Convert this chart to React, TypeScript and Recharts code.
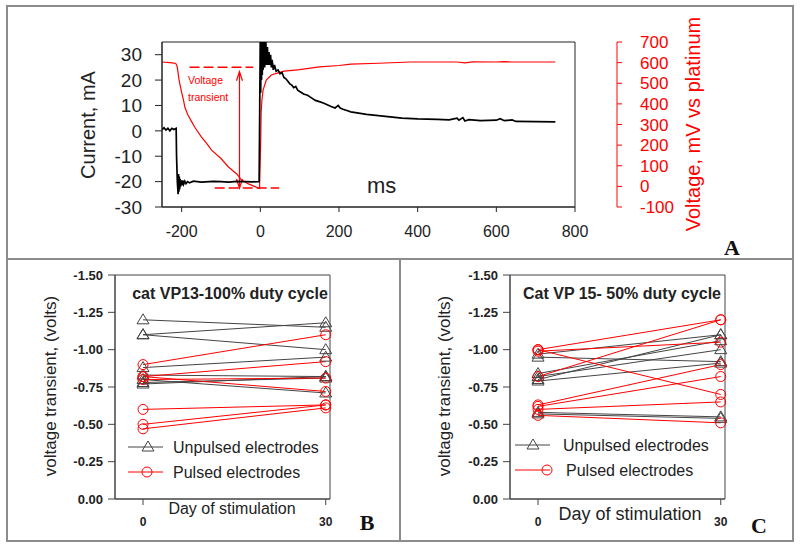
import React from "react";
import { LineChart, Line, XAxis, YAxis, ReferenceLine, ReferenceArea } from "recharts";

const FONT = "Arial, 'Liberation Sans', Helvetica, sans-serif";
const SERIF = "'Liberation Serif', 'Times New Roman', serif";
const RED = "#ff0000";
const GRAY = "#444";

// ---- panel A: current pulse and voltage transient ----
const currentTime = [
  -250, -245, -240, -235, -230, -225, -220, -214, -213, -211, -209, -208, -207, -206, -205, -204, -203, -201,
  -199, -197, -195, -192, -189, -185, -180, -170, -150, -120, -100, -80, -60, -40, -20, -5, -3, -2, -1, 0, 1,
  2, 3, 4, 5, 6, 7, 8, 9, 10, 11, 12, 13, 14, 16, 18, 20, 22, 24, 26, 28, 30, 33, 36, 40, 45, 50, 55, 60, 65,
  70, 75, 80, 85, 90, 95, 100, 110, 120, 130, 140, 150, 160, 170, 180, 190, 198, 203, 210, 220, 230, 250, 270,
  300, 330, 360, 400, 450, 480, 500, 505, 515, 520, 530, 560, 600, 610, 620, 640, 650, 700, 750,
];
const currentMA = [
  0.5, 1.2, 0.3, 1, 0, 1, 0.5, 1, -10, -20, -25, -17, -24, -18, -23, -19, -22, -19.5,
  -21.5, -19.5, -21, -19.8, -20.8, -20, -20.5, -19.8, -20.2, -19.9, -20, -20.2, -19.9, -20, -20.1, -20, -20, 0, 20, 40, 15,
  40, 20, 40, 22, 40, 24, 40, 25, 38, 25, 36, 26, 35, 26, 33, 26, 31, 26, 30, 25, 28, 24, 26, 23.5, 24, 22.5, 23, 21, 20.5,
  19.5, 18.5, 18, 17, 17.5, 16, 15.5, 14.5, 14, 13, 12, 11.5, 11, 10.3, 9.6, 9, 10, 9, 8.5, 8, 7.5, 7, 6.5,
  6, 5.5, 5, 4.7, 4.5, 4.3, 5, 4.2, 5.2, 3.9, 4.4, 4, 4.2, 4.8, 4, 4.3, 3.7, 3.6, 3.5,
];
const voltageTime = [
  -250, -230, -220, -215, -212, -210, -207, -205, -200, -195, -192, -185, -175, -167, -150, -135, -124, -100,
  -81, -60, -48, -30, -15, -5, -2, 0, 1, 2, 4, 7, 15, 28, 45, 61, 100, 150, 200, 230, 300, 382, 500, 520, 540,
  600, 620, 640, 750,
];
const voltageMV = [
  603, 600, 598, 596, 585, 564, 520, 501, 455, 415, 385, 350, 315, 288, 240, 205, 176, 135,
  94, 60, 31, 12, 0, -8, -10, 150, 225, 356, 419, 467, 516, 540, 550, 559, 566, 579, 586, 593, 597, 603, 603, 599, 604,
  603, 605, 603, 603,
];
const timeTicks = [-200, 0, 200, 400, 600, 800];
const currentTicks = [-30, -20, -10, 0, 10, 20, 30];
const voltageTicks = [-100, 0, 100, 200, 300, 400, 500, 600, 700];

// ---- panels B and C: voltage transient at day 0 and day 30 ----
const days = [0, 30];
const transientTicks = [-1.5, -1.25, -1, -0.75, -0.5, -0.25, 0];
const vp13Unpulsed = [
  [-1.2, -1.15], [-1.1, -1.18], [-1.1, -1.0], [-0.88, -0.95],
  [-0.83, -0.82], [-0.8, -0.71], [-0.78, -0.81], [-0.77, -0.82],
];
const vp13Pulsed = [
  [-0.9, -1.1], [-0.82, -0.92], [-0.82, -0.72], [-0.8, -0.81],
  [-0.6, -0.63], [-0.5, -0.63], [-0.47, -0.61],
];
const vp15Unpulsed = [
  [-0.97, -1.1], [-0.95, -0.92], [-0.84, -1.06], [-0.82, -1.0],
  [-0.8, -1.1], [-0.79, -0.91], [-0.58, -0.55], [-0.57, -0.54],
];
const vp15Pulsed = [
  [-1.0, -1.2], [-0.82, -1.2], [-1.0, -0.7], [-0.99, -1.05],
  [-0.63, -0.9], [-0.62, -0.82], [-0.6, -0.65], [-0.56, -0.51],
];

const currentData = currentTime.map((t, i) => ({ t, i: currentMA[i] }));
const voltageData = voltageTime.map((t, i) => ({ t, v: voltageMV[i] }));

const toPairData = (pair: number[]) => days.map((day, k) => ({ day, v: pair[k] }));

const triangleDot = (color: string) => (props: any) => {
  const { cx, cy, index } = props;
  if (cx == null || cy == null) return <g key={`t-${index}`} />;
  return (
    <path
      key={`t-${index}`}
      d={`M${cx},${cy - 6} L${cx + 6},${cy + 4} L${cx - 6},${cy + 4} Z`}
      fill="none"
      stroke={color}
      strokeWidth={1}
    />
  );
};

const arrowShape = (props: any) => {
  const { x1, y1, x2, y2 } = props;
  const top = Math.min(y1, y2);
  const bot = Math.max(y1, y2);
  return (
    <g stroke={RED} strokeWidth={1.2} fill="none">
      <line x1={x1} y1={top} x2={x2} y2={bot} />
      <polyline points={`${x1 - 3},${top + 9} ${x1},${top} ${x1 + 3},${top + 9}`} />
      <polyline points={`${x1 - 3},${bot - 9} ${x1},${bot} ${x1 + 3},${bot - 9}`} />
    </g>
  );
};

function PanelA() {
  return (
    <LineChart width={800} height={260} margin={{ top: 42, right: 113, bottom: 23, left: 102 }}>
      <XAxis
        type="number"
        dataKey="t"
        domain={[-250, 800]}
        ticks={timeTicks}
        interval={0}
        allowDataOverflow
        stroke="#222"
        tickSize={5}
        tickMargin={14}
        height={30}
        tick={{ fill: "#222", fontSize: 16, fontFamily: FONT }}
      />
      <YAxis
        yAxisId="c"
        domain={[-30, 35]}
        ticks={currentTicks}
        interval={0}
        allowDataOverflow
        width={60}
        stroke="#222"
        tickSize={7}
        tickMargin={13}
        tick={{ fill: "#222", fontSize: 19, fontFamily: FONT }}
      />
      <YAxis yAxisId="gap" orientation="right" width={42} domain={[0, 1]} axisLine={false} tickLine={false} tick={false} />
      <YAxis
        yAxisId="v"
        orientation="right"
        domain={[-100, 700]}
        ticks={voltageTicks}
        interval={0}
        width={70}
        stroke={RED}
        tickSize={5}
        tickMargin={18}
        tick={{ fill: RED, fontSize: 17, fontFamily: FONT }}
      />
      <ReferenceArea yAxisId="c" x1={-250} x2={800} y1={-30} y2={35} fill="none" stroke="#222" strokeWidth={1} ifOverflow="visible" />
      <ReferenceLine yAxisId="v" segment={[{ x: -180, y: 578 }, { x: -18, y: 578 }]} stroke={RED} strokeWidth={1.5} strokeDasharray="10 4" />
      <ReferenceLine yAxisId="v" segment={[{ x: -116, y: -8 }, { x: 48, y: -8 }]} stroke={RED} strokeWidth={1.5} strokeDasharray="10 4" />
      <ReferenceLine yAxisId="v" segment={[{ x: -53, y: -8 }, { x: -53, y: 556 }]} shape={arrowShape} />
      <Line yAxisId="v" data={voltageData} dataKey="v" stroke={RED} strokeWidth={1.2} dot={false} isAnimationActive={false} />
      <Line yAxisId="c" data={currentData} dataKey="i" stroke="#000" strokeWidth={1.7} dot={false} isAnimationActive={false} />
    </LineChart>
  );
}

function TransientPanel({ unpulsed, pulsed }: { unpulsed: number[][]; pulsed: number[][] }) {
  return (
    <LineChart width={400} height={288} margin={{ top: 17, right: 70, bottom: 17, left: 65 }}>
      <XAxis
        type="number"
        dataKey="day"
        domain={[-4.6, 30.7]}
        ticks={days}
        interval={0}
        stroke={GRAY}
        tickSize={6}
        tickMargin={12}
        height={30}
        tick={{ fill: "#222", fontSize: 12, fontWeight: "bold", fontFamily: FONT }}
      />
      <YAxis
        type="number"
        domain={[-1.5, 0]}
        reversed
        ticks={transientTicks}
        interval={0}
        tickFormatter={(v: number) => v.toFixed(2)}
        width={50}
        stroke={GRAY}
        tickSize={7}
        tickMargin={5}
        tick={{ fill: "#222", fontSize: 13, fontWeight: "bold", fontFamily: FONT }}
      />
      <ReferenceArea x1={-4.6} x2={30.7} y1={-1.5} y2={0} fill="none" stroke={GRAY} strokeWidth={1} ifOverflow="visible" />
      {unpulsed.map((pair, k) => (
        <Line
          key={`u${k}`}
          data={toPairData(pair)}
          dataKey="v"
          stroke={GRAY}
          strokeWidth={1}
          dot={triangleDot(GRAY)}
          isAnimationActive={false}
        />
      ))}
      {pulsed.map((pair, k) => (
        <Line
          key={`p${k}`}
          data={toPairData(pair)}
          dataKey="v"
          stroke={RED}
          strokeWidth={1}
          dot={{ r: 5, fill: "none", stroke: RED, strokeWidth: 1 }}
          isAnimationActive={false}
        />
      ))}
    </LineChart>
  );
}

function Legend({ x, y, tri, circ, textX }: { x: number; y: number; tri: number; circ: number; textX: number[] }) {
  return (
    <g fontFamily={FONT} fontSize={16} fill="#222">
      <line x1={x} y1={y} x2={x + 35} y2={y} stroke={GRAY} />
      <path d={`M${tri},${y - 6} L${tri + 6},${y + 4} L${tri - 6},${y + 4} Z`} fill="none" stroke={GRAY} />
      <text x={textX[0]} y={y + 6}>Unpulsed electrodes</text>
      <line x1={x} y1={y + 25} x2={x + 35} y2={y + 25} stroke={RED} />
      <circle cx={circ} cy={y + 25} r={5} fill="none" stroke={RED} />
      <text x={textX[1]} y={y + 31}>Pulsed electrodes</text>
    </g>
  );
}

export default function App() {
  return (
    <div style={{ position: "absolute", left: 0, top: 0, width: 800, height: 546, background: "#fff" }}>
      <div style={{ position: "absolute", left: 0, top: 0 }}>
        <PanelA />
      </div>
      <div style={{ position: "absolute", left: 0, top: 258 }}>
        <TransientPanel unpulsed={vp13Unpulsed} pulsed={vp13Pulsed} />
      </div>
      <div style={{ position: "absolute", left: 395, top: 258 }}>
        <TransientPanel unpulsed={vp15Unpulsed} pulsed={vp15Pulsed} />
      </div>
      <svg width={800} height={546} style={{ position: "absolute", left: 0, top: 0, pointerEvents: "none" }}>
        <rect x={7} y={6} width={786} height={535} fill="none" stroke="#8c8c8c" strokeWidth={2} />
        <line x1={7} y1={259} x2={793} y2={259} stroke="#8c8c8c" strokeWidth={2} />
        <line x1={400} y1={259} x2={400} y2={541} stroke="#8c8c8c" strokeWidth={2} />

        <g fontFamily={FONT}>
          <text transform="translate(95,125) rotate(-90)" textAnchor="middle" fontSize={20} fill="#222">Current, mA</text>
          <text transform="translate(700,124) rotate(-90)" textAnchor="middle" fontSize={20} fill={RED}>Voltage, mV vs platinum</text>
          <text x={367} y={193} fontSize={22} fill="#222">ms</text>
          <text x={188} y={84} fontSize={10.5} fill={RED}>Voltage</text>
          <text x={188} y={101} fontSize={10.5} fill={RED}>transient</text>

          <text transform="translate(56,386) rotate(-90)" textAnchor="middle" fontSize={17} fill="#222">voltage transient, (volts)</text>
          <text x={230} y={299} textAnchor="middle" fontSize={16} fontWeight="bold" fill="#222">cat VP13-100% duty cycle</text>
          <text x={232} y={514} textAnchor="middle" fontSize={16} fill="#222">Day of stimulation</text>

          <text transform="translate(450,386) rotate(-90)" textAnchor="middle" fontSize={17} fill="#222">voltage transient, (volts)</text>
          <text x={622} y={299} textAnchor="middle" fontSize={16} fontWeight="bold" fill="#222">Cat VP 15- 50% duty cycle</text>
          <text x={630} y={520} textAnchor="middle" fontSize={18} fill="#222">Day of stimulation</text>
        </g>
        <Legend x={128} y={447} tri={148} circ={147} textX={[173, 173]} />
        <Legend x={515} y={445} tri={533} circ={547} textX={[563, 566]} />

        <g fontFamily={SERIF} fontWeight="bold" fontSize={22} fill="#111" textAnchor="middle">
          <text x={732} y={255}>A</text>
          <text x={367} y={530}>B</text>
          <text x={759} y={533}>C</text>
        </g>
      </svg>
    </div>
  );
}
